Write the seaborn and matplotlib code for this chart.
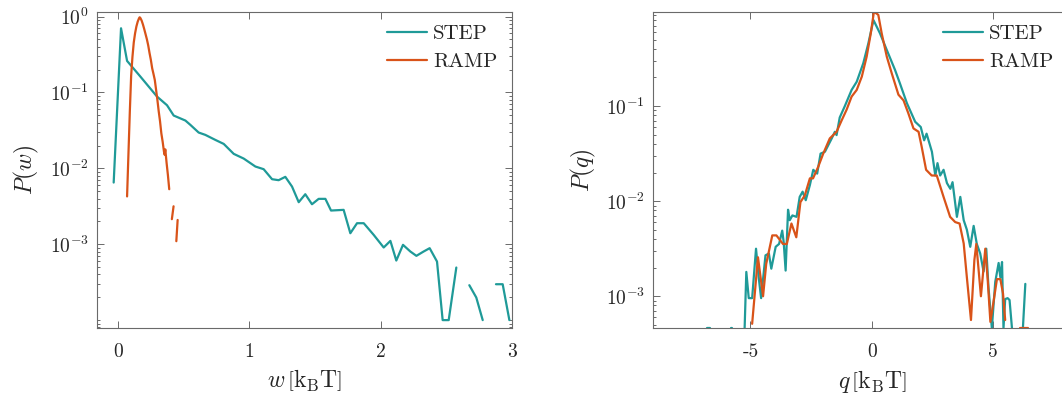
import numpy as np
import pandas as pd
import matplotlib
matplotlib.use("Agg")
import matplotlib.pyplot as plt
import seaborn as sns
from matplotlib.ticker import FixedLocator, FixedFormatter, LogLocator, NullFormatter, LogFormatterSciNotation
from matplotlib.lines import Line2D

# ---------------- data ----------------
# Left panel: work distribution P(w); values given as log10 P, NaN = empty bin
step_w = [-0.033, 0.023, 0.069, 0.170, 0.297, 0.373, 0.424, 0.513, 0.551, 0.614,
          0.665, 0.741, 0.805, 0.881, 0.957, 1.046, 1.109, 1.173, 1.223, 1.274,
          1.325, 1.376, 1.426, 1.477, 1.528, 1.579, 1.622, 1.718, 1.769, 1.820,
          1.871, 1.947, 2.023, 2.074, 2.119, 2.170, 2.226, 2.272, 2.327, 2.373,
          2.429, 2.472, 2.518, 2.576, 2.626, 2.675, 2.728, 2.777, 2.827, 2.878,
          2.929, 2.980]
step_w_logp = [-2.187, -0.154, -0.584, -0.790, -1.054, -1.168, -1.304, -1.370, -1.427, -1.528,
               -1.559, -1.625, -1.678, -1.809, -1.871, -1.976, -2.011, -2.143, -2.156, -2.112,
               -2.240, -2.446, -2.341, -2.473, -2.402, -2.402, -2.556, -2.547, -2.855, -2.723,
               -2.723, -2.877, -3.043, -2.956, -3.215, -3.008, -3.096, -3.153, -3.096, -3.052,
               -3.228, -4.000, -4.000, -3.307, np.nan, -3.540, -3.702, -4.000, np.nan, -3.527,
               -3.527, -4.000]

ramp_w = [0.069, 0.080, 0.090, 0.100, 0.110, 0.120, 0.130, 0.140, 0.150, 0.160,
          0.165, 0.170, 0.180, 0.190, 0.200, 0.210, 0.220, 0.230, 0.240, 0.250,
          0.260, 0.270, 0.280, 0.290, 0.300, 0.310, 0.320, 0.330, 0.340, 0.350,
          0.355, 0.360, 0.370, 0.380, 0.390, 0.400, 0.410, 0.423, 0.433, 0.444,
          0.454]
ramp_w_logp = [-2.37, -1.78, -1.25, -0.78, -0.53, -0.34, -0.22, -0.13, -0.066, -0.022,
               -0.009, -0.018, -0.053, -0.105, -0.167, -0.233, -0.300, -0.380, -0.480, -0.570,
               -0.680, -0.755, -0.834, -0.966, -1.100, -1.250, -1.380, -1.540, -1.650, -1.780,
               -1.820, -1.750, -1.930, -2.090, -2.275, np.nan, -2.670, -2.500, np.nan, -2.960,
               -2.680]

# Right panel: heat distribution P(q); values given as log10 P, NaN = empty bin
step_q = [-6.81, -6.65, -6.40, -5.82, -5.74, -5.50, -5.24, -5.17, -5.07, -4.93,
          -4.77, -4.66, -4.56, -4.38, -4.24, -4.14, -3.96, -3.82, -3.69, -3.63,
          -3.55, -3.45, -3.38, -3.27, -3.10, -2.97, -2.85, -2.72, -2.55, -2.41,
          -2.25, -2.11, -1.93, -1.79, -1.65, -1.52, -1.45, -1.32, -1.11, -0.83,
          -0.62, -0.35, -0.14, 0.07, 0.34, 0.62, 0.96, 1.16, 1.45, 1.79,
          2.02, 2.16, 2.26, 2.48, 2.62, 2.71, 2.82, 2.96, 3.10, 3.24,
          3.33, 3.51, 3.65, 3.79, 3.92, 4.06, 4.20, 4.33, 4.47, 4.61,
          4.72, 4.81, 4.95, 5.09, 5.23, 5.30, 5.37, 5.43, 5.50, 5.60,
          5.68, 5.78, 6.00, 6.23, 6.33]
step_q_logp = [-3.337, -3.337, np.nan, -3.337, -3.337, np.nan, -3.337, -2.744, -3.020, -3.020,
               -2.500, -2.800, -3.020, -2.570, -2.550, -2.710, -2.480, -2.450, -2.310, -2.430,
               -2.730, -2.090, -2.200, -2.150, -2.165, -1.955, -1.900, -1.990, -1.830, -1.670,
               -1.710, -1.500, -1.480, -1.410, -1.340, -1.270, -1.305, -1.120, -1.000, -0.830,
               -0.744, -0.550, -0.340, -0.095, -0.235, -0.410, -0.620, -0.760, -0.970, -1.165,
               -1.220, -1.360, -1.290, -1.480, -1.730, -1.600, -1.730, -1.670, -1.810, -1.870,
               -1.800, -2.165, -1.955, -2.200, -2.300, -2.480, -2.260, -2.450, -2.550, -2.740,
               -2.500, -2.900, -3.337, -2.850, -2.650, -2.800, -2.640, -3.337, -3.030, -3.020,
               -3.040, -3.337, np.nan, -3.337, -2.870]

ramp_q = [-4.93, -4.69, -4.48, -4.35, -4.10, -3.93, -3.66, -3.50, -3.31, -3.11,
          -2.94, -2.76, -2.55, -2.42, -2.21, -2.00, -1.73, -1.45, -1.24, -1.04,
          -0.83, -0.62, -0.41, -0.21, -0.04, 0.09, 0.27, 0.41, 0.62, 0.83,
          1.10, 1.31, 1.51, 1.72, 1.93, 2.06, 2.24, 2.47, 2.68, 2.96,
          3.23, 3.44, 3.62, 3.79, 3.92, 4.09, 4.23, 4.31, 4.50, 4.68,
          4.78, 4.89, 5.03, 5.16, 5.30, 5.41, 5.50, 5.80, 6.13, 6.46]
ramp_q_logp = [-3.29, -2.59, -3.00, -2.66, -2.36, -2.36, -2.45, -2.45, -2.235, -2.38,
               -2.01, -1.94, -1.76, -1.76, -1.64, -1.50, -1.34, -1.27, -1.15, -1.04,
               -0.90, -0.83, -0.69, -0.48, -0.235, -0.007, -0.04, -0.235, -0.48, -0.66,
               -0.88, -0.94, -1.077, -1.235, -1.27, -1.43, -1.67, -1.73, -1.73, -1.955,
               -2.165, -2.22, -2.235, -2.445, -2.80, -3.25, -2.62, -2.45, -3.00, -2.50,
               -2.83, -3.27, -3.04, -2.82, -2.82, -2.97, -3.25, np.nan, -3.337, -3.337]

series_names = ["STEP", "RAMP"]
w_ticks = [0, 1, 2, 3]
w_ticklabels = ["0", "1", "2", "3"]
q_ticks = [-5, 0, 5]
q_ticklabels = ["-5", "0", "5"]
w_yticks = [1e-3, 1e-2, 1e-1, 1e0]
q_yticks = [1e-3, 1e-2, 1e-1]

# ---------------- style ----------------
TEAL = "#1f9a98"
ORANGE = "#d95319"
SPINE = "#6a6a6a"
TXT = "#262626"

sns.set_style("ticks")
plt.rcParams.update({
    "font.family": "serif",
    "font.serif": ["cmr10", "DejaVu Serif"],
    "mathtext.fontset": "cm",
    "axes.unicode_minus": False,
    "axes.formatter.use_mathtext": True,
})


def make_df(x, logp, name):
    df = pd.DataFrame({"x": x, "P": 10.0 ** np.asarray(logp, dtype=float)})
    df["series"] = name
    df["seg"] = df["P"].isna().cumsum()
    return df.dropna()


df_w = pd.concat([make_df(step_w, step_w_logp, "STEP"), make_df(ramp_w, ramp_w_logp, "RAMP")])
df_q = pd.concat([make_df(step_q, step_q_logp, "STEP"), make_df(ramp_q, ramp_q_logp, "RAMP")])
palette = {"STEP": TEAL, "RAMP": ORANGE}

fig = plt.figure(figsize=(10.62, 3.99), dpi=100)
ax1 = fig.add_axes([97 / 1062, 1 - 328.3 / 399, 415 / 1062, 316.6 / 399])
ax2 = fig.add_axes([653.4 / 1062, 1 - 328.3 / 399, 436.7 / 1062, 316.6 / 399])

for ax, df in ((ax1, df_w), (ax2, df_q)):
    sns.lineplot(data=df, x="x", y="P", hue="series", hue_order=series_names,
                 units="seg", estimator=None, sort=False, palette=palette,
                 linewidth=1.6, legend=False, ax=ax)
    ax.set_yscale("log")
    for s in ax.spines.values():
        s.set_color(SPINE)
        s.set_linewidth(0.8)
    ax.tick_params(which="both", direction="in", top=True, right=True,
                   color=SPINE, width=0.7, labelcolor=TXT, labelsize=14)
    ax.tick_params(which="major", length=5)
    ax.tick_params(which="minor", length=2.5)
    ax.tick_params(axis="x", pad=11)
    ax.tick_params(axis="y", pad=6)
    ax.yaxis.set_minor_locator(LogLocator(base=10, subs=np.arange(1, 10), numticks=30))
    ax.yaxis.set_minor_formatter(NullFormatter())
    ax.xaxis.set_minor_locator(FixedLocator([]))

# left
ax1.set_xlim(-0.16, 3.0)
ax1.set_ylim(7.8e-5, 1.16)
ax1.xaxis.set_major_locator(FixedLocator(w_ticks))
ax1.xaxis.set_major_formatter(FixedFormatter(w_ticklabels))
ax1.yaxis.set_major_locator(FixedLocator(w_yticks))
ax1.yaxis.set_major_formatter(LogFormatterSciNotation())
ax1.set_xlabel(r"$w\,\left[\mathrm{k_B T}\right]$", fontsize=17, color=TXT)
ax1.set_ylabel(r"$P(w)$", fontsize=17, color=TXT, labelpad=6)
ax1.xaxis.set_label_coords(0.5, -0.125)

# right
ax2.set_xlim(-9, 9)
ax2.set_ylim(4.6e-4, 0.984)
ax2.xaxis.set_major_locator(FixedLocator(q_ticks))
ax2.xaxis.set_major_formatter(FixedFormatter(q_ticklabels))
ax2.yaxis.set_major_locator(FixedLocator(q_yticks))
ax2.yaxis.set_major_formatter(LogFormatterSciNotation())
ax2.set_xlabel(r"$q\,\left[\mathrm{k_B T}\right]$", fontsize=17, color=TXT)
ax2.set_ylabel(r"$P(q)$", fontsize=17, color=TXT, labelpad=6)
ax2.xaxis.set_label_coords((872 - 653.4) / 436.7, -0.125)

handles = [Line2D([], [], color=palette[n], lw=1.6) for n in series_names]
for ax, anchor in ((ax1, (0.985, 0.985)), (ax2, (0.935, 0.985))):
    leg = ax.legend(handles, series_names, loc="upper right", bbox_to_anchor=anchor,
                    frameon=False, fontsize=15, handlelength=1.9, handletextpad=0.3,
                    labelspacing=0.45, borderaxespad=0.0)
    for t in leg.get_texts():
        t.set_color(TXT)

fig.savefig("out.png", dpi=100)
